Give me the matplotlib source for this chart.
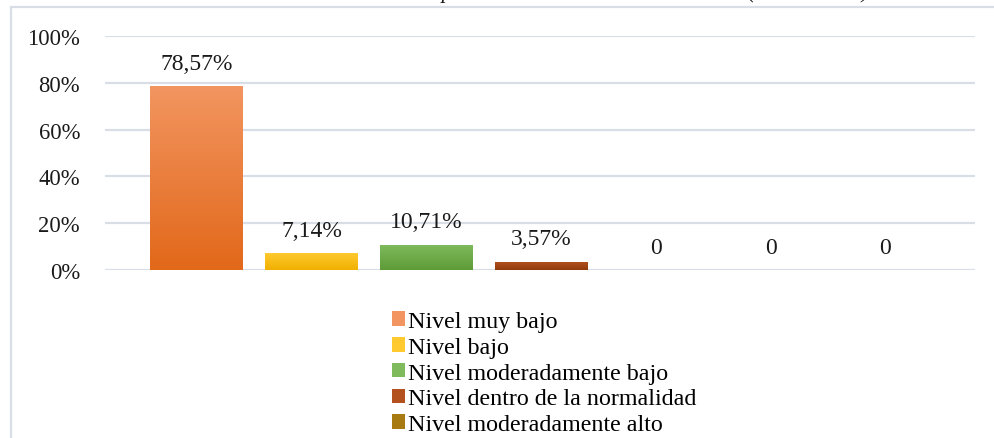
import matplotlib
matplotlib.use("Agg")
import matplotlib.pyplot as plt
import numpy as np
from matplotlib.colors import LinearSegmentedColormap
from matplotlib.patches import Rectangle
from matplotlib.ticker import PercentFormatter

# data
categorias = ["Nivel muy bajo", "Nivel bajo", "Nivel moderadamente bajo",
              "Nivel dentro de la normalidad", "Nivel moderadamente alto",
              "Nivel alto", "Nivel muy alto"]
valores = [0.7857, 0.0714, 0.1071, 0.0357, 0.0, 0.0, 0.0]
etiquetas = ["78,57%", "7,14%", "10,71%", "3,57%", "0", "0", "0"]
titulo = "Resultados del nivel de autoestima del componente emocional de los alumnos (Pretest G.E.)"

# colores (arriba, abajo) para el degradado
colores = [("#f29560", "#e2681a"), ("#ffca30", "#f0b000"), ("#7fba5c", "#5e9c38"),
           ("#b3521f", "#933a0b"), ("#a87a12", "#8c5f00"), ("#4472c4", "#30589e"),
           ("#264478", "#1b3560")]

plt.rcParams["font.family"] = ["Liberation Serif", "DejaVu Serif"]

fig = plt.figure(figsize=(9.94, 4.39), dpi=100)
W, H = 994, 439
ax = fig.add_axes([105 / W, 1 - 271 / H, (975 - 105) / W, (271 - 37) / H])

x = np.arange(len(categorias))
bars = ax.bar(x, valores, width=0.81, color=[c[0] for c in colores], zorder=2)

# degradado vertical dentro de cada barra
for b, (top, bot) in zip(bars, colores):
    h = b.get_height()
    if h <= 0:
        continue
    cmap = LinearSegmentedColormap.from_list("g", [bot, top])
    grad = np.linspace(0, 1, 100).reshape(-1, 1)
    im = ax.imshow(grad, cmap=cmap, aspect="auto", origin="lower",
                   extent=[b.get_x(), b.get_x() + b.get_width(), 0, h], zorder=3)
    im.set_clip_path(b)

for xi, v, t in zip(x, valores, etiquetas):
    ax.annotate(t, (xi, v), xytext=(0, 9), textcoords="offset points",
                ha="center", va="bottom", fontsize=17, color="#1a1a1a")

ax.set_xlim(-0.80, 6.78)
ax.set_ylim(0, 1)
ax.set_yticks(np.arange(0, 1.01, 0.2))
ax.yaxis.set_major_formatter(PercentFormatter(1.0, decimals=0))
ax.set_xticks([])
ax.tick_params(axis="y", length=0, pad=18, labelsize=16.3, labelcolor="#1a1a1a")
ax.grid(axis="y", color="#d9dde6", linewidth=1.6, zorder=0)
ax.set_axisbelow(True)
for s in ax.spines.values():
    s.set_visible(False)

# marco del grafico
fig.patches.append(Rectangle((11 / W, -0.1), 1.2, 1 - 8 / H + 0.1, transform=fig.transFigure,
                             fill=False, edgecolor="#d9dde6", linewidth=1.6))

# titulo recortado en el borde superior
fig.text(468 / W, 1 + 2 / H, titulo, ha="center", va="baseline", fontsize=15.7,
         style="italic", color="#1a1a1a")

handles = [Rectangle((0, 0), 1, 1, facecolor=c[0]) for c in colores]
fig.legend(handles, categorias, loc="upper center", bbox_to_anchor=(544 / W, 1 - 312 / H),
           frameon=False, fontsize=17.3, handlelength=0.55, handleheight=0.55,
           handletextpad=0.1, labelspacing=0.2, borderpad=0, borderaxespad=0)

fig.savefig("out.png", dpi=100)
